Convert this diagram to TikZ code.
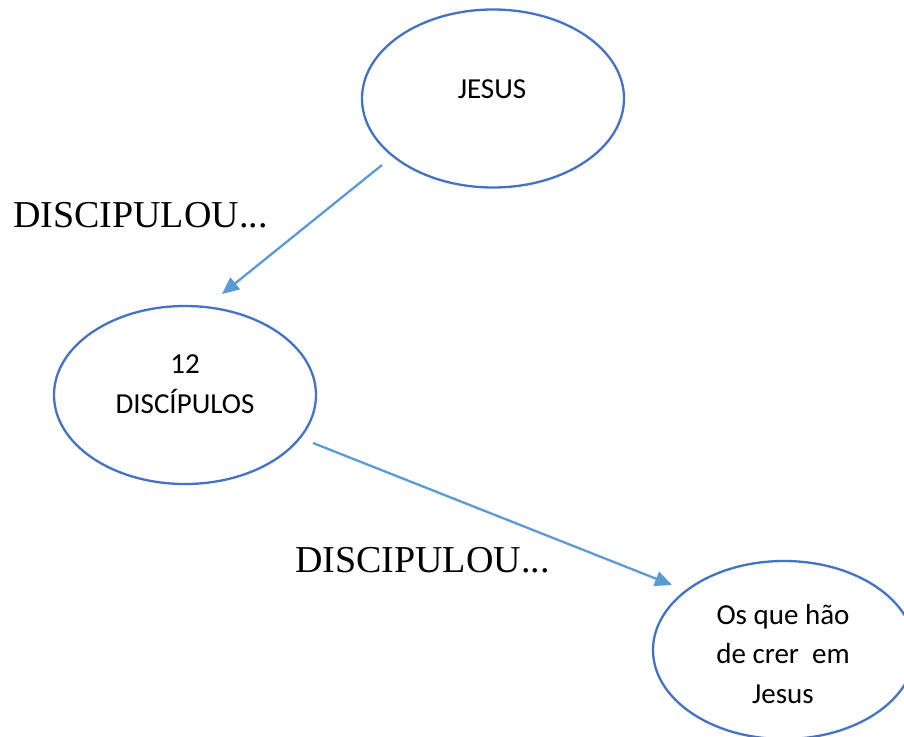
\documentclass[tikz,border=0pt]{standalone}
\usepackage{fontspec}
\setmainfont{Carlito}
\newfontfamily\serifx{Liberation Serif}
\usetikzlibrary{shapes.geometric,arrows.meta}
\definecolor{ellblue}{HTML}{4472C4}
\definecolor{arrblue}{HTML}{5B9BD5}
\begin{document}
\begin{tikzpicture}[x=1pt,y=-1pt,
 bubble/.style={ellipse,draw=ellblue,line width=2.3pt,minimum width=262pt,minimum height=178pt,inner sep=0pt},
 txt/.style={font=\fontsize{29}{39.5}\selectfont,align=center,inner sep=0pt},
 lbl/.style={font=\serifx\fontsize{38}{40}\selectfont,inner sep=0pt,anchor=base west},
 conn/.style={draw=arrblue,line width=2.3pt,-{Triangle[length=17pt,width=15pt]}}]
\useasboundingbox (0,0) rectangle (904,736);
\fill[white] (0,0) rectangle (904,736);
\begin{scope}
\clip (0,0) rectangle (904,736);
\node[bubble] (jesus) at (493,98.5) {};
\node[bubble] (disc) at (185,395) {};
\node[bubble] (crer) at (784,650) {};
\end{scope}
\node[txt,anchor=base] (jesusT) at (492,98) {JESUS};
\node[txt] (discT) at (185,384) {12\\DISCÍPULOS};
\node[txt] (crerT) at (783,654) {Os que hão\\de crer~ em\\Jesus};
\node[lbl] (l1) at (13,227) {DISCIPULOU...};
\node[lbl] (l2) at (295,572) {DISCIPULOU...};
\coordinate (a1s) at (382,165);
\coordinate (a1e) at (222,294);
\coordinate (a2s) at (313,443);
\coordinate (a2e) at (672,585);
\draw[conn] (a1s) -- (a1e);
\draw[conn] (a2s) -- (a2e);
\end{tikzpicture}
\end{document}
